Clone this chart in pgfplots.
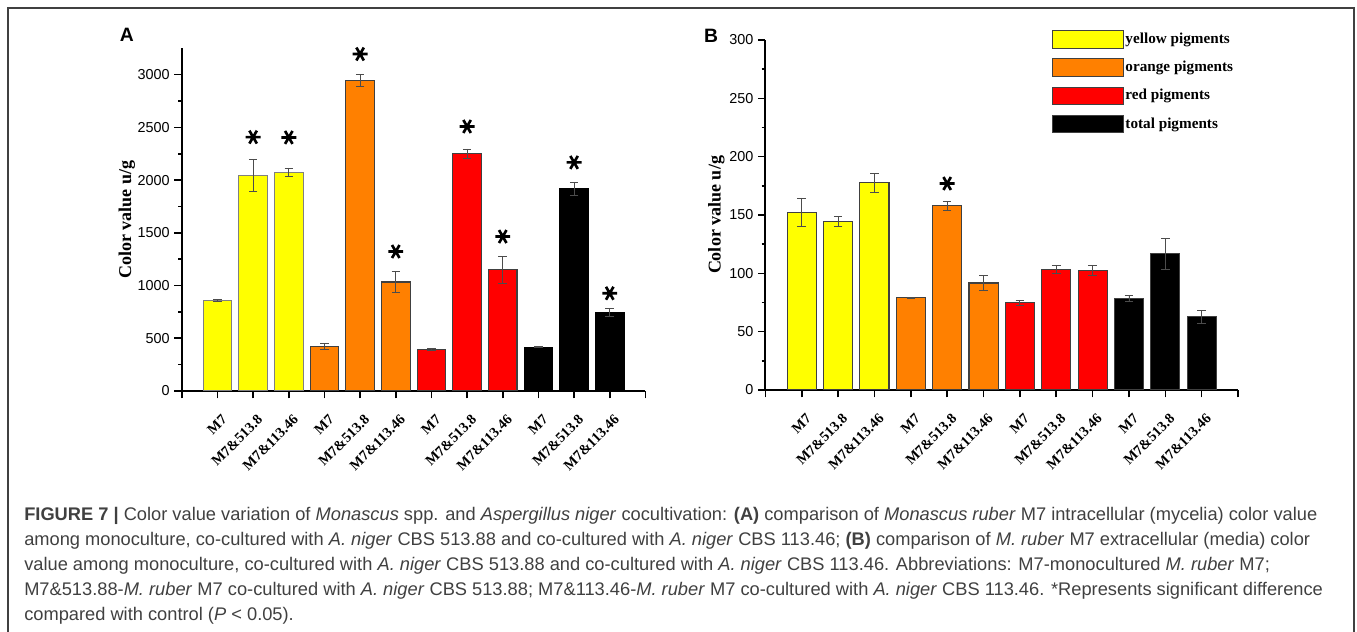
\documentclass[border=0pt]{standalone}
\usepackage{pgfplots}
\pgfplotsset{compat=1.18}
\usepackage{fontspec}
\setmainfont{Liberation Serif}
\newfontfamily\arial{Liberation Sans}
\definecolor{yel}{HTML}{FFFF00}
\definecolor{org}{HTML}{FF8000}
\definecolor{rd}{HTML}{FF0000}
\definecolor{capgray}{HTML}{404040}
\pgfplotsset{
  panel/.style={
    scale only axis,
    axis x line*=bottom, axis y line*=left,
    axis line style={line width=1.5pt},
    xmin=-1, xmax=12, ymin=0,
    xtick={0,...,11},
    extra x ticks={-1,12}, extra x tick labels={},
    xticklabels={M7,M7\&513.8,M7\&113.46,M7,M7\&513.8,M7\&113.46,M7,M7\&513.8,M7\&113.46,M7,M7\&513.8,M7\&113.46},
    xticklabel style={font=\bfseries\fontsize{10.8}{10.8}\selectfont, xshift=6pt, yshift=-13.5pt, rotate=45, anchor=east, inner sep=1pt},
    yticklabel style={font=\arial\fontsize{10.8}{10.8}\selectfont},
    /pgf/number format/assume math mode=true,
    /pgf/number format/1000 sep={},
    tick align=outside,
    major tick length=5.5pt, minor tick length=2.8pt,
    tick style={line width=1.2pt, black},
    minor y tick num=1,
    bar width=0.8, bar shift=0pt,
    ylabel={Color value u/g},
    ylabel style={font=\bfseries\fontsize{13.5}{13.5}\selectfont},
    error bars/error bar style={line width=0.6pt, black!70},
    error bars/error mark options={rotate=90, mark size=3.2pt, line width=0.6pt, black!70},
    legend image code/.code={\draw[#1] (0pt,-6.5pt) rectangle (53.4pt,6.5pt);},
  },
  star/.style={only marks, mark=asterisk, mark size=5.6pt, mark options={line width=2pt, black, rotate=90}, forget plot},
}
\begin{document}
\begin{tikzpicture}
\useasboundingbox (0,0) rectangle (1017.75pt,474pt);
\draw[black!75, line width=0.9pt] (6pt,-5pt) -- (6pt,468pt) -- (1015.5pt,468pt) -- (1015.5pt,-5pt);
% Panel A
\begin{axis}[panel,
  at={(136.35pt,180.75pt)}, anchor=south west,
  width=347.7pt, height=257pt,
  ymax=3250, ytick={0,500,...,3000},
  ylabel style={at={(axis description cs:-0.1186,0.5)}, anchor=center},
]
\addplot[ybar, fill=yel, draw=black!50, line width=0.8pt,
  error bars/.cd, y dir=both, y explicit]
  coordinates {(0,858) +- (0,6) (1,2045) +- (0,155) (2,2075) +- (0,40)};
\addplot[ybar, fill=org, draw=black!75, line width=0.8pt,
  error bars/.cd, y dir=both, y explicit]
  coordinates {(3,421) +- (0,30) (4,2946) +- (0,58) (5,1034) +- (0,102)};
\addplot[ybar, fill=rd, draw=black!75, line width=0.8pt,
  error bars/.cd, y dir=both, y explicit]
  coordinates {(6,394) +- (0,13) (7,2252) +- (0,44) (8,1148) +- (0,130)};
\addplot[ybar, fill=black, draw=black, line width=0.8pt,
  error bars/.cd, y dir=both, y explicit]
  coordinates {(9,416) +- (0,5) (10,1918) +- (0,63) (11,748) +- (0,37)};
\addplot[star] coordinates {(1,2408) (2,2405) (4,3196) (5,1323) (7,2509) (8,1465) (10,2168) (11,927)};
\end{axis}
% Panel B
\begin{axis}[panel,
  at={(574.05pt,181.5pt)}, anchor=south west,
  width=354.45pt, height=262.5pt,
  ymax=300, ytick={0,50,...,300},
  ylabel style={at={(axis description cs:-0.1037,0.5)}, anchor=center},
  legend style={at={(0.6056,1.0286)}, anchor=north west, draw=none, fill=none,
    inner sep=0pt, row sep=7.3pt, font=\bfseries\fontsize{11.4}{11.4}\selectfont,
    nodes={inner sep=1pt}},
  legend cell align=left,
]
\addplot[ybar, fill=yel, draw=black!75, line width=0.8pt,
  error bars/.cd, y dir=both, y explicit]
  coordinates {(0,152.3) +- (0,12.3) (1,144.6) +- (0,4.3) (2,177.7) +- (0,8)};
\addlegendentry{yellow pigments}
\addplot[ybar, fill=org, draw=black!75, line width=0.8pt,
  error bars/.cd, y dir=both, y explicit]
  coordinates {(3,78.9) +- (0,0.5) (4,158) +- (0,3.7) (5,91.7) +- (0,6.3)};
\addlegendentry{orange pigments}
\addplot[ybar, fill=rd, draw=black!75, line width=0.8pt,
  error bars/.cd, y dir=both, y explicit]
  coordinates {(6,74.6) +- (0,2) (7,103.1) +- (0,3.5) (8,102.6) +- (0,4)};
\addlegendentry{red pigments}
\addplot[ybar, fill=black, draw=black!75, line width=0.8pt,
  error bars/.cd, y dir=both, y explicit]
  coordinates {(9,78.6) +- (0,2.3) (10,116.6) +- (0,13.4) (11,62.9) +- (0,5.4)};
\addlegendentry{total pigments}
\addplot[star] coordinates {(4,177)};
\end{axis}
\node[font=\arial\bfseries\fontsize{14.5}{14.5}\selectfont] at (95.1pt,447.75pt) {A};
\node[font=\arial\bfseries\fontsize{14.5}{14.5}\selectfont] at (533.25pt,447pt) {B};
\begin{scope}[every node/.style={anchor=base west, inner sep=0pt, text=capgray, font=\arial\fontsize{13.7}{13.7}\selectfont}]
\node at (18pt,83.25pt) {\textbf{FIGURE 7 |} Color value variation of \textit{Monascus} spp. and \textit{Aspergillus niger} cocultivation: \textbf{(A)} comparison of \textit{Monascus ruber} M7 intracellular (mycelia) color value};
\node at (18pt,64.5pt) {among monoculture, co-cultured with \textit{A. niger} CBS 513.88 and co-cultured with \textit{A. niger} CBS 113.46; \textbf{(B)} comparison of \textit{M. ruber} M7 extracellular (media) color};
\node at (18pt,45.75pt) {value among monoculture, co-cultured with \textit{A. niger} CBS 513.88 and co-cultured with \textit{A. niger} CBS 113.46. Abbreviations: M7-monocultured \textit{M. ruber} M7;};
\node at (18pt,27pt) {M7\&513.88-\textit{M. ruber} M7 co-cultured with \textit{A. niger} CBS 513.88; M7\&113.46-\textit{M. ruber} M7 co-cultured with \textit{A. niger} CBS 113.46. *Represents significant difference};
\node at (18pt,8.25pt) {compared with control (\textit{P} < 0.05).};
\end{scope}
\end{tikzpicture}
\end{document}
